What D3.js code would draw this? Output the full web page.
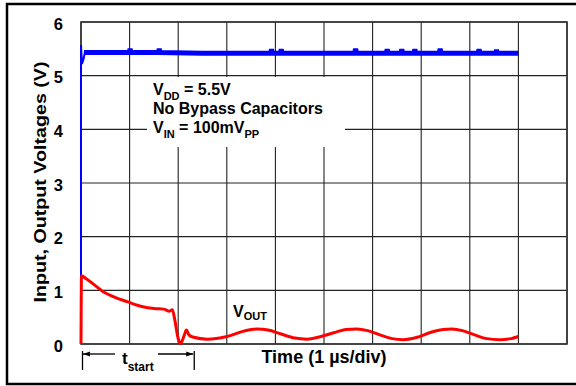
<!DOCTYPE html>
<html>
<head>
<meta charset="utf-8">
<script src="https://cdn.jsdelivr.net/npm/d3@7"></script>
<style>
  body { margin: 0; background: #fff; }
  svg { display: block; font-family: Arial, "Liberation Sans", sans-serif; font-weight: bold; }
</style>
</head>
<body>
<svg id="chart" width="576" height="386"></svg>
<script>
// y tick labels, volts
const yTicks = [0, 1, 2, 3, 4, 5, 6];
// time in µs (1 µs/div, 10 div)
const xDivs = [0, 1, 2, 3, 4, 5, 6, 7, 8, 9, 10];

// V_DD (input) trace: start-up edge, then the settled level with small glitches
const vddEdgeTime = [0, 0, 0.02, 0.05, 0.08];
const vddEdgeVolts = [0, 5.57, 5.22, 5.3, 5.43];
const vddTime = [0.06, 0.5, 0.99, 1.01, 1.03, 1.59, 1.61, 1.63, 2.5, 3.90, 3.92, 3.94,
  4.10, 4.12, 4.14, 5.63, 5.65, 5.67, 6.28, 6.30, 6.32, 6.58, 6.60, 6.62, 6.85, 6.87, 6.89,
  7.37, 7.39, 7.41, 8.17, 8.19, 8.21, 8.53, 8.55, 8.57, 9.0];
const vddVolts = [5.43, 5.43, 5.43, 5.5, 5.43, 5.43, 5.5, 5.43, 5.42, 5.42, 5.49, 5.42,
  5.42, 5.49, 5.42, 5.42, 5.5, 5.42, 5.42, 5.49, 5.42, 5.42, 5.49, 5.42, 5.42, 5.49, 5.42,
  5.42, 5.5, 5.42, 5.42, 5.49, 5.42, 5.42, 5.48, 5.42, 5.42];

// V_OUT trace
const voutTime = [0, 0.01, 0.1, 0.25, 0.45, 0.7, 0.95, 1.25, 1.5, 1.7, 1.82, 1.88, 1.93, 2.0, 2.05, 2.12,
  2.17, 2.22, 2.3, 2.6, 3.0, 3.35, 3.62, 3.85, 4.1, 4.4, 4.65, 4.9, 5.2, 5.45, 5.67, 5.9, 6.15,
  6.4, 6.63, 6.9, 7.2, 7.45, 7.63, 7.85, 8.1, 8.35, 8.62, 8.85, 9.0];
const voutVolts = [0, 1.27, 1.22, 1.12, 0.98, 0.87, 0.79, 0.70, 0.66, 0.65, 0.61, 0.64, 0.45, 0.1, 0.01, 0.15,
  0.26, 0.17, 0.13, 0.09, 0.14, 0.24, 0.28, 0.26, 0.19, 0.11, 0.09, 0.13, 0.21, 0.27, 0.28, 0.25, 0.17,
  0.10, 0.08, 0.12, 0.22, 0.27, 0.28, 0.25, 0.17, 0.10, 0.08, 0.10, 0.14];

const tStart = 2.33;

(function() {
const svg = d3.select('#chart');
const pLeft = 81, pRight = 567, pTop = 22, pBottom = 344;

const x = d3.scaleLinear().domain([0, 10]).range([pLeft, pRight]);
const y = d3.scaleLinear().domain([0, 6]).range([pBottom, pTop]);

// outer frame
svg.append('rect')
  .attr('x', 7).attr('y', 4)
  .attr('width', 590).attr('height', 380)
  .attr('fill', 'none').attr('stroke', '#000').attr('stroke-width', 2.5);

// grid
const grid = svg.append('g').attr('stroke', '#222').attr('stroke-width', 1.1);
grid.selectAll('.vg').data(xDivs).enter().append('line')
  .attr('x1', d => x(d)).attr('x2', d => x(d))
  .attr('y1', pTop).attr('y2', pBottom);
grid.selectAll('.hg').data(yTicks).enter().append('line')
  .attr('x1', pLeft).attr('x2', pRight)
  .attr('y1', d => y(d)).attr('y2', d => y(d));

svg.append('rect')
  .attr('x', pLeft).attr('y', pTop)
  .attr('width', pRight - pLeft).attr('height', pBottom - pTop)
  .attr('fill', 'none').attr('stroke', '#333').attr('stroke-width', 1.6);

// y tick labels
svg.append('g').selectAll('text').data(yTicks).enter().append('text')
  .attr('x', 63).attr('y', d => y(d) + 2)
  .attr('dy', '0.35em')
  .attr('text-anchor', 'end')
  .style('font-size', '16.5px')
  .text(d => d);

// y title
svg.append('text')
  .attr('transform', 'translate(46,182) rotate(-90)')
  .attr('text-anchor', 'middle')
  .attr('textLength', 241).attr('lengthAdjust', 'spacingAndGlyphs')
  .style('font-size', '17px')
  .text('Input, Output Voltages (V)');

// x title
svg.append('text')
  .attr('x', (pLeft + pRight) / 2).attr('y', 363)
  .attr('text-anchor', 'middle')
  .style('font-size', '18px')
  .text('Time (1 µs/div)');

// annotation box
svg.append('rect')
  .attr('x', 147).attr('y', 77).attr('width', 198).attr('height', 70)
  .attr('fill', '#fff');

const note = svg.append('g').style('font-size', '16px');
const l1 = note.append('text').attr('x', 153).attr('y', 95);
l1.append('tspan').text('V');
l1.append('tspan').attr('dy', 4.5).style('font-size', '11px').text('DD');
l1.append('tspan').attr('dy', -4.5).text(' = 5.5V');
note.append('text').attr('x', 153).attr('y', 114).text('No Bypass Capacitors');
const l3 = note.append('text').attr('x', 153).attr('y', 133);
l3.append('tspan').text('V');
l3.append('tspan').attr('dy', 4.5).style('font-size', '11px').text('IN');
l3.append('tspan').attr('dy', -4.5).text(' = 100mV');
l3.append('tspan').attr('dy', 4.5).style('font-size', '11px').text('PP');

// traces
const line = d3.line().x(d => x(d[0])).y(d => y(d[1]));

svg.append('path')
  .datum(d3.zip(vddEdgeTime, vddEdgeVolts))
  .attr('fill', 'none').attr('stroke', '#0000ff').attr('stroke-width', 2)
  .attr('d', line);
svg.append('path')
  .datum(d3.zip(vddTime, vddVolts))
  .attr('fill', 'none').attr('stroke', '#0000ff').attr('stroke-width', 5)
  .attr('stroke-linejoin', 'miter').attr('stroke-miterlimit', 2)
  .attr('d', line);

svg.append('path')
  .datum(d3.zip(voutTime, voutVolts))
  .attr('fill', 'none').attr('stroke', '#ff0000').attr('stroke-width', 3)
  .attr('stroke-linejoin', 'round')
  .attr('d', line.curve(d3.curveMonotoneX));

// V_OUT label
const vo = svg.append('text').attr('x', 233).attr('y', 317).style('font-size', '16px');
vo.append('tspan').text('V');
vo.append('tspan').attr('dy', 3).style('font-size', '11px').text('OUT');

// t_start marker
svg.append('defs').append('marker')
  .attr('id', 'arr').attr('viewBox', '0 0 10 10')
  .attr('refX', 10).attr('refY', 5)
  .attr('markerWidth', 7).attr('markerHeight', 7)
  .attr('markerUnits', 'userSpaceOnUse')
  .attr('orient', 'auto-start-reverse')
  .append('path').attr('d', 'M0,1.5L10,5L0,8.5Z').attr('fill', '#000');

const ts = svg.append('g').attr('stroke', '#000').attr('stroke-width', 1.3);
ts.append('line').attr('x1', x(0) + 1.5).attr('x2', x(0) + 1.5).attr('y1', 351).attr('y2', 370);
ts.append('line').attr('x1', x(tStart)).attr('x2', x(tStart)).attr('y1', 351).attr('y2', 370);
ts.append('line').attr('x1', x(0) + 2).attr('x2', 115).attr('y1', 354).attr('y2', 354)
  .attr('marker-start', 'url(#arr)');
ts.append('line').attr('x1', 158).attr('x2', x(tStart) - 1).attr('y1', 354).attr('y2', 354)
  .attr('marker-end', 'url(#arr)');

const tl = svg.append('text').attr('x', 122).attr('y', 364).style('font-size', '17px');
tl.append('tspan').text('t');
tl.append('tspan').attr('dy', 7).style('font-size', '12px').text('start');
})();
</script>
</body>
</html>
